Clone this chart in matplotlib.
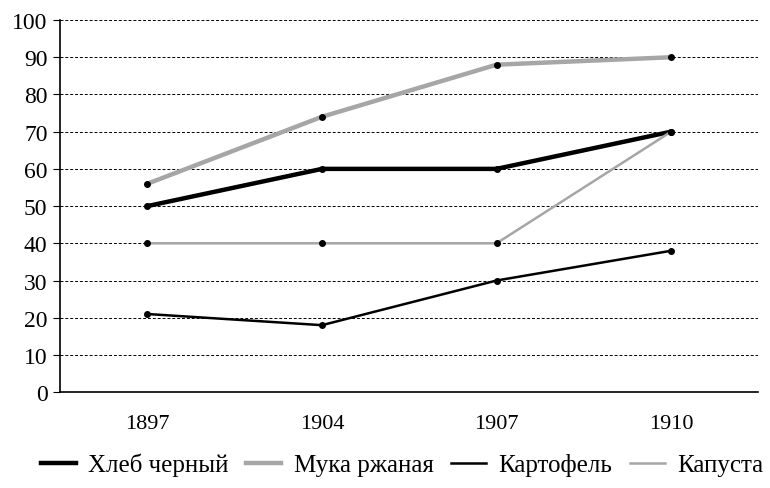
import matplotlib.pyplot as plt
import numpy as np

years = ["1897", "1904", "1907", "1910"]
bread = [50, 60, 60, 70]
flour = [56, 74, 88, 90]
potato = [21, 18, 30, 38]
cabbage = [40, 40, 40, 70]
y_ticks = list(range(0, 101, 10))

series = [
    ("Хлеб черный", bread, "black", 3.2),
    ("Мука ржаная", flour, "#a6a6a6", 3.2),
    ("Картофель", potato, "black", 1.8),
    ("Капуста", cabbage, "#a6a6a6", 1.8),
]


def main():
    plt.rcParams["font.family"] = ["Liberation Serif", "DejaVu Serif"]
    fig, ax = plt.subplots(figsize=(7.7, 4.89), dpi=100)
    fig.subplots_adjust(left=0.078, right=0.985, top=0.957, bottom=0.196)

    x = np.arange(len(years)) + 0.5
    handles = []
    for name, vals, color, lw in series:
        h, = ax.plot(x, vals, color=color, lw=lw, label=name, zorder=3)
        ax.plot(x, vals, "o", color="black", ms=4, zorder=4)
        handles.append(h)

    ax.set_xlim(0, 4)
    ax.set_ylim(0, 100)
    ax.set_xticks(x)
    ax.set_xticklabels(years, fontsize=16)
    ax.set_yticks(y_ticks)
    ax.set_yticklabels([str(v) for v in y_ticks], fontsize=17, family="Liberation Serif")
    ax.tick_params(axis="x", length=0, pad=16)
    ax.tick_params(axis="y", length=5, direction="out", pad=4)
    ax.yaxis.grid(True, linestyle=(0, (3, 2)), color="black", lw=0.7)
    ax.set_axisbelow(True)
    for s in ["top", "right"]:
        ax.spines[s].set_visible(False)
    for s in ["left", "bottom"]:
        ax.spines[s].set_linewidth(1.2)

    fig.legend(handles=handles, loc="lower center", ncol=4, frameon=False,
               bbox_to_anchor=(0.522, -0.022), handlelength=1.4, handletextpad=0.5,
               columnspacing=0.7, prop={"size": 18})
    fig.savefig("out.png")


if __name__ == "__main__":
    main()
